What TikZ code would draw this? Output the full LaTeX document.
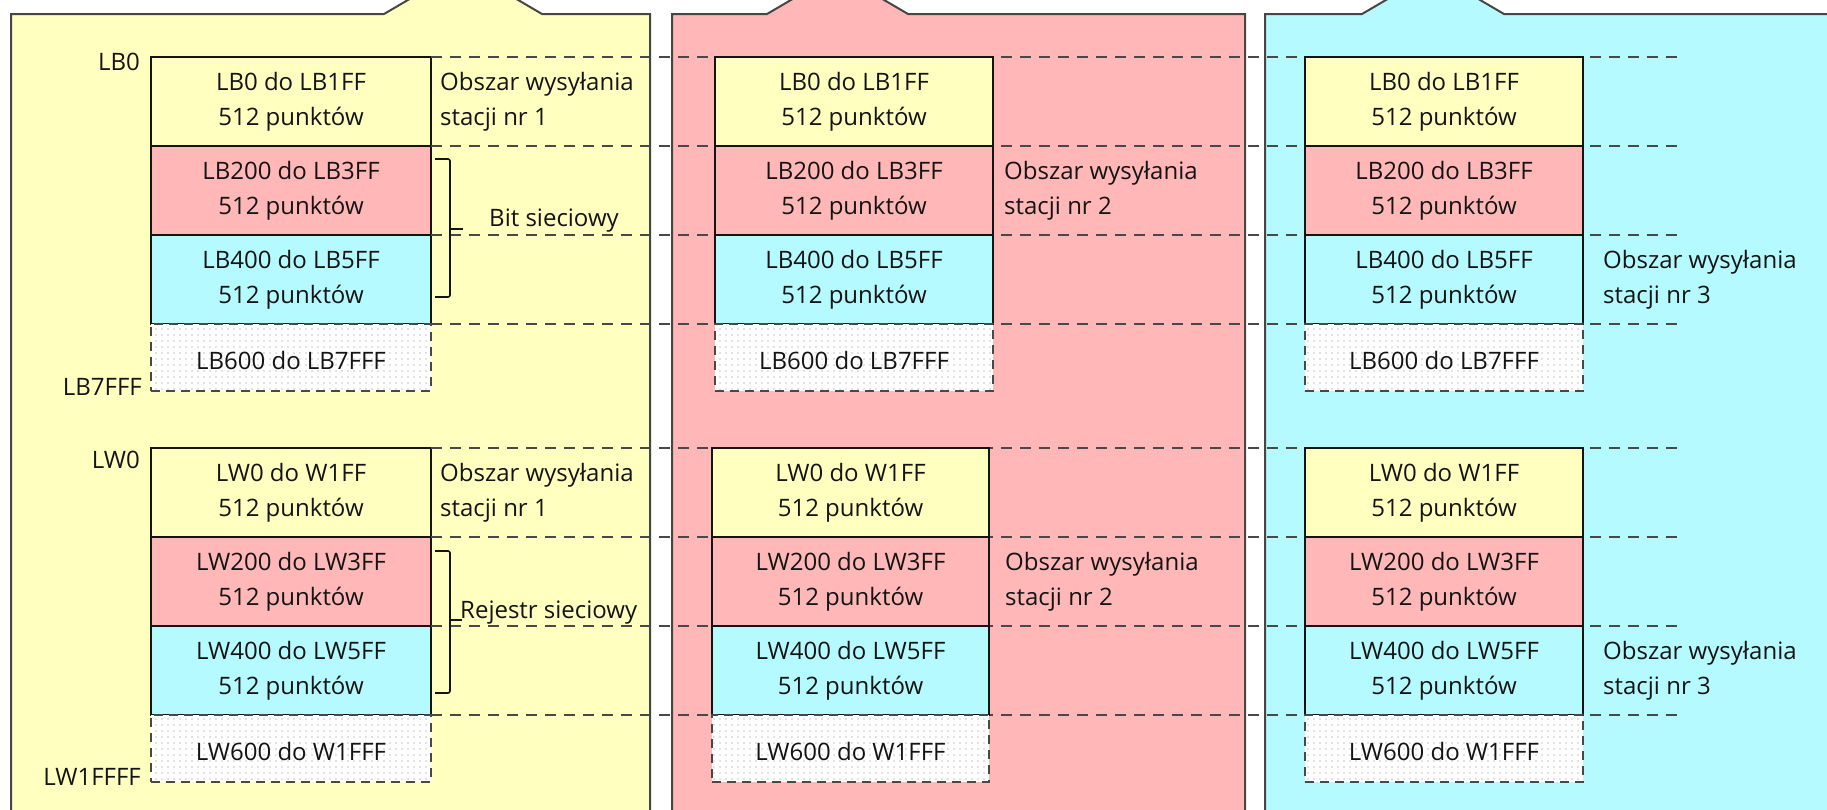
\documentclass[tikz,border=0pt]{standalone}
\usepackage{fontspec}
\setmainfont{Open Sans}
\usetikzlibrary{positioning,patterns.meta}
\definecolor{padyellow}{RGB}{255,255,192}
\definecolor{padpink}{RGB}{255,183,183}
\definecolor{padcyan}{RGB}{181,250,254}
\definecolor{rimgray}{RGB}{70,70,70}
\definecolor{dashgray}{RGB}{72,72,72}
\definecolor{ink}{RGB}{20,20,20}

\begin{document}
\begin{tikzpicture}[x=1pt,y=-1pt,node distance=0pt,
  every node/.style={font=\fontsize{24}{35}\selectfont,text=ink},
  panel/.style={draw=rimgray,line width=2pt},
  blk/.style={draw=ink,line width=2pt,minimum height=89pt,inner sep=0pt,outer sep=0pt,align=center,execute at begin node={\rule{0pt}{25pt}}},
  spare/.style={blk,execute at begin node={},draw=dashgray,dash pattern=on 9pt off 6pt,minimum height=67pt,preaction={fill=white},pattern={Dots[distance=6pt,radius=0.8pt]},pattern color=black!22},
  sepline/.style={draw=dashgray,line width=2.4pt,dash pattern=on 11pt off 8pt},
  side/.style={anchor=west,align=left,inner sep=0pt,execute at begin node={\rule{0pt}{25pt}}},
  addr/.style={anchor=base east,inner sep=0pt},
  brk/.style={draw=ink,line width=1.6pt,rounded corners=2pt}]
\useasboundingbox (0,0) rectangle (1827,809);
\clip (0,0) rectangle (1827,809);
% three station panels
\draw[panel,fill=padyellow] (11,830) |- (384,14) -- (442,-20) -- (484,-20) -- (542,14) -| (650,830);
\draw[panel,fill=padpink] (672,830) |- (767,14) -- (825,-20) -- (850,-20) -- (908,14) -| (1245,830);
\draw[panel,fill=padcyan] (1265,830) |- (1362,14) -- (1420,-20) -- (1446,-20) -- (1504,14) -| (1850,830);
\coordinate (tail) at (1683,0);
% station 1
\node[blk,fill=padyellow,minimum width=280pt,anchor=north west] (s1lb0) at (151,57) {LB0 do LB1FF\\512 punktów};
\node[blk,fill=padpink,minimum width=280pt,below=of s1lb0] (s1lb200) {LB200 do LB3FF\\512 punktów};
\node[blk,fill=padcyan,minimum width=280pt,below=of s1lb200] (s1lb400) {LB400 do LB5FF\\512 punktów};
\node[spare,minimum width=280pt,below=of s1lb400] (s1lb600) {LB600 do LB7FFF};
\node[blk,fill=padyellow,minimum width=280pt,anchor=north west] (s1lw0) at (151,448) {LW0 do W1FF\\512 punktów};
\node[blk,fill=padpink,minimum width=280pt,below=of s1lw0] (s1lw200) {LW200 do LW3FF\\512 punktów};
\node[blk,fill=padcyan,minimum width=280pt,below=of s1lw200] (s1lw400) {LW400 do LW5FF\\512 punktów};
\node[spare,minimum width=280pt,below=of s1lw400] (s1lw600) {LW600 do W1FFF};
\foreach \b in {s1lb0,s1lb200,s1lb400,s1lb600,s1lw0,s1lw200,s1lw400,s1lw600}
  {\draw[sepline] (\b.north east) -- (\b.north east -| tail);}
\node[addr] (lb0) at ([xshift=-11pt,yshift=-13pt]s1lb0.north west) {LB0};
\node[addr] (lb7fff) at ([xshift=-9pt,yshift=-4pt]s1lb600.south west) {LB7FFF};
\node[addr] (lw0) at ([xshift=-11pt,yshift=-20pt]s1lw0.north west) {LW0};
\node[addr] (lw1ffff) at ([xshift=-10pt,yshift=-3pt]s1lw600.south west) {LW1FFFF};
\node[side,right=9pt of s1lb0] (send1b) {Obszar wysyłania\\stacji nr 1};
\node[side,right=9pt of s1lw0] (send1w) {Obszar wysyłania\\stacji nr 1};
\draw[brk] ([xshift=4pt,yshift=-13pt]s1lb200.north east) -| ([xshift=19pt,yshift=27pt]s1lb400.south east) -- ([xshift=4pt,yshift=27pt]s1lb400.south east);
\draw[brk] ([xshift=19pt,yshift=6pt]s1lb400.north east) -- ++(13,0);
\node[anchor=base west,inner sep=0pt] (bitlbl) at ([xshift=58pt,yshift=9pt]s1lb400.north east) {Bit sieciowy};
\draw[brk] ([xshift=4pt,yshift=-14pt]s1lw200.north east) -| ([xshift=19pt,yshift=22pt]s1lw400.south east) -- ([xshift=4pt,yshift=22pt]s1lw400.south east);
\draw[brk] ([xshift=19pt,yshift=6pt]s1lw400.north east) -- ++(12,0);
\node[anchor=base west,inner sep=0pt] (reglbl) at ([xshift=29pt,yshift=8pt]s1lw400.north east) {Rejestr sieciowy};
% station 2
\node[blk,fill=padyellow,minimum width=278pt,anchor=north west] (s2lb0) at (715,57) {LB0 do LB1FF\\512 punktów};
\node[blk,fill=padpink,minimum width=278pt,below=of s2lb0] (s2lb200) {LB200 do LB3FF\\512 punktów};
\node[blk,fill=padcyan,minimum width=278pt,below=of s2lb200] (s2lb400) {LB400 do LB5FF\\512 punktów};
\node[spare,minimum width=278pt,below=of s2lb400] (s2lb600) {LB600 do LB7FFF};
\node[blk,fill=padyellow,minimum width=277pt,anchor=north west] (s2lw0) at (712,448) {LW0 do W1FF\\512 punktów};
\node[blk,fill=padpink,minimum width=277pt,below=of s2lw0] (s2lw200) {LW200 do LW3FF\\512 punktów};
\node[blk,fill=padcyan,minimum width=277pt,below=of s2lw200] (s2lw400) {LW400 do LW5FF\\512 punktów};
\node[spare,minimum width=277pt,below=of s2lw400] (s2lw600) {LW600 do W1FFF};
\node[side,right=11pt of s2lb200] (send2b) {Obszar wysyłania\\stacji nr 2};
\node[side,right=16pt of s2lw200] (send2w) {Obszar wysyłania\\stacji nr 2};
% station 3
\node[blk,fill=padyellow,minimum width=278pt,anchor=north west] (s3lb0) at (1305,57) {LB0 do LB1FF\\512 punktów};
\node[blk,fill=padpink,minimum width=278pt,below=of s3lb0] (s3lb200) {LB200 do LB3FF\\512 punktów};
\node[blk,fill=padcyan,minimum width=278pt,below=of s3lb200] (s3lb400) {LB400 do LB5FF\\512 punktów};
\node[spare,minimum width=278pt,below=of s3lb400] (s3lb600) {LB600 do LB7FFF};
\node[blk,fill=padyellow,minimum width=278pt,anchor=north west] (s3lw0) at (1305,448) {LW0 do W1FF\\512 punktów};
\node[blk,fill=padpink,minimum width=278pt,below=of s3lw0] (s3lw200) {LW200 do LW3FF\\512 punktów};
\node[blk,fill=padcyan,minimum width=278pt,below=of s3lw200] (s3lw400) {LW400 do LW5FF\\512 punktów};
\node[spare,minimum width=278pt,below=of s3lw400] (s3lw600) {LW600 do W1FFF};
\node[side,right=20pt of s3lb400] (send3b) {Obszar wysyłania\\stacji nr 3};
\node[side,right=20pt of s3lw400] (send3w) {Obszar wysyłania\\stacji nr 3};
\end{tikzpicture}
\end{document}
